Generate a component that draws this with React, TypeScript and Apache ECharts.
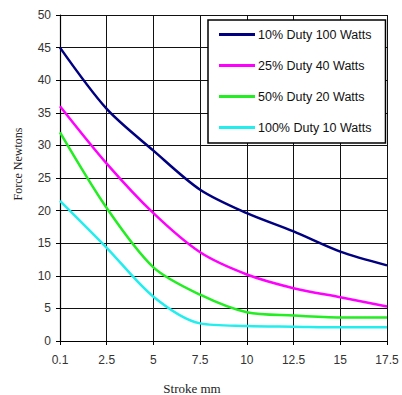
import React, { useEffect, useRef } from "react";
import * as echarts from "echarts";

const strokeLabels = ["0.1", "2.5", "5", "7.5", "10", "12.5", "15", "17.5"];
const duty10 = [45, 35.6, 29.2, 23.2, 19.6, 16.8, 13.7, 11.6];
const duty25 = [36, 27.2, 19.6, 13.6, 10.2, 8.1, 6.7, 5.3];
const duty50 = [32, 20.4, 11.3, 7.1, 4.4, 3.9, 3.6, 3.6];
const duty100 = [21.5, 14.3, 6.8, 2.7, 2.3, 2.2, 2.1, 2.1];
const seriesNames = [
  "10% Duty 100 Watts",
  "25% Duty 40 Watts",
  "50% Duty 20 Watts",
  "100% Duty 10 Watts",
];
const seriesColors = ["#000080", "#ff00ff", "#22ee22", "#22eeee"];
const xAxisName = "Stroke mm";
const yAxisName = "Force Newtons";

export default function App() {
  const ref = useRef<HTMLDivElement>(null);
  useEffect(() => {
    if (!ref.current) return;
    const chart = echarts.init(ref.current, null, { renderer: "svg" });
    const datasets = [duty10, duty25, duty50, duty100];
    const serif = "Liberation Serif, Times New Roman, serif";
    const sans = "Liberation Sans, Arial, sans-serif";
    chart.setOption({
      animation: false,
      backgroundColor: "#ffffff",
      grid: { left: 60, right: 15, top: 15, bottom: 54 },
      graphic: [
        {
          type: "text",
          x: 18,
          y: 164,
          rotation: Math.PI / 2,
          style: {
            text: yAxisName,
            fontFamily: serif,
            fontSize: 12,
            fill: "#222",
            align: "center",
            verticalAlign: "middle",
          },
        },
        {
          type: "text",
          x: 192,
          y: 388,
          style: {
            text: xAxisName,
            fontFamily: serif,
            fontSize: 13,
            fill: "#222",
            align: "center",
            verticalAlign: "middle",
          },
        },
      ],
      legend: {
        orient: "vertical",
        left: 208,
        top: 20,
        padding: [8, 14, 9, 11],
        itemGap: 18,
        itemWidth: 36,
        itemHeight: 3,
        icon: "rect",
        backgroundColor: "#ffffff",
        borderColor: "#000000",
        borderWidth: 1.5,
        data: seriesNames,
        textStyle: {
          fontFamily: sans,
          fontSize: 12.5,
          color: "#111",
          padding: [0, 0, 0, -2],
        },
      },
      xAxis: {
        type: "category",
        data: strokeLabels,
        boundaryGap: false,
        axisLine: { lineStyle: { color: "#000", width: 1.2 } },
        axisTick: { show: true, length: 4, lineStyle: { color: "#000" } },
        axisLabel: {
          fontFamily: sans,
          fontSize: 12,
          color: "#333",
          margin: 13,
        },
        splitLine: { show: true, lineStyle: { color: "#111", width: 1 } },
      },
      yAxis: {
        type: "value",
        min: 0,
        max: 50,
        interval: 5,
        axisLine: { show: true, lineStyle: { color: "#000", width: 1.2 } },
        axisTick: { show: true, length: 4, lineStyle: { color: "#000" } },
        axisLabel: {
          fontFamily: sans,
          fontSize: 12,
          color: "#333",
          margin: 9,
        },
        splitLine: { show: true, lineStyle: { color: "#111", width: 1 } },
      },
      series: datasets.map((d, i) => ({
        name: seriesNames[i],
        type: "line",
        data: d,
        smooth: 0.3,
        symbol: "none",
        lineStyle: { color: seriesColors[i], width: 2.5 },
        itemStyle: { color: seriesColors[i] },
      })),
    });
    return () => chart.dispose();
  }, []);
  return (
    <div
      ref={ref}
      style={{ position: "fixed", left: 0, top: 0, width: 402, height: 395 }}
    />
  );
}
